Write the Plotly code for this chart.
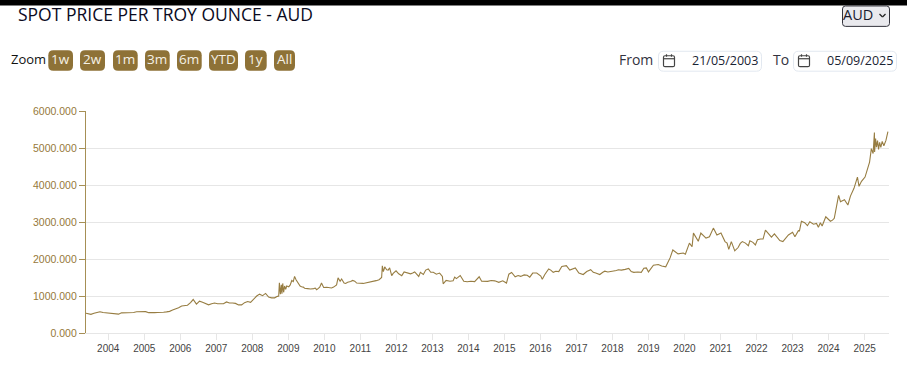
import plotly.graph_objects as go

dates = [
"2003-05-21","2003-06-15","2003-07-10","2003-08-10","2003-09-10","2003-10-10","2003-11-10","2003-12-10",
"2004-01-15","2004-02-15","2004-03-15","2004-04-15","2004-05-15","2004-06-15","2004-07-15","2004-08-15","2004-09-15","2004-10-15","2004-11-15","2004-12-15",
"2005-01-15","2005-02-15","2005-03-15","2005-04-15","2005-05-15","2005-06-15","2005-07-15","2005-08-15","2005-09-15","2005-10-15","2005-11-15","2005-12-15",
"2006-01-15","2006-02-15","2006-03-15","2006-04-15","2006-05-12","2006-06-14","2006-07-15","2006-08-15","2006-09-15","2006-10-15","2006-11-15","2006-12-15",
"2007-01-15","2007-02-25","2007-03-15","2007-04-15","2007-05-15","2007-06-15","2007-07-15","2007-08-15","2007-09-15","2007-10-15","2007-11-15","2007-12-15",
"2008-01-15","2008-02-15","2008-03-15","2008-04-15","2008-05-15","2008-06-15","2008-07-15","2008-08-15","2008-09-12","2008-09-25","2008-10-02","2008-10-12","2008-10-22","2008-10-28","2008-11-05","2008-11-14","2008-11-24","2008-12-05","2008-12-15",
"2009-01-05","2009-01-20","2009-02-05","2009-02-20","2009-03-05","2009-03-20","2009-04-15","2009-05-15","2009-06-15","2009-07-15","2009-08-15","2009-09-15","2009-10-15","2009-11-15","2009-12-03","2009-12-25",
"2010-01-25","2010-02-25","2010-04-05","2010-05-20","2010-06-10","2010-07-20","2010-08-25","2010-10-15","2010-11-25",
"2011-01-30","2011-03-15","2011-05-15","2011-07-10","2011-08-05","2011-08-12","2011-08-22","2011-09-05","2011-09-25","2011-10-25","2011-11-15","2011-12-29",
"2012-02-25","2012-04-15","2012-05-25","2012-07-05","2012-08-15","2012-10-01","2012-11-20","2013-01-10","2013-03-15","2013-04-12","2013-04-20","2013-06-28","2013-07-30","2013-09-01","2013-10-10","2013-12-20",
"2014-03-05","2014-04-20","2014-06-10","2014-08-20","2014-11-05","2015-01-22","2015-03-15","2015-05-20","2015-07-20","2015-09-15","2015-10-15","2015-11-25",
"2016-01-20","2016-02-15","2016-03-25","2016-05-10","2016-07-05","2016-09-20","2016-12-20",
"2017-03-10","2017-05-25","2017-07-15","2017-08-25","2017-10-15","2017-12-15","2018-02-10","2018-04-01","2018-06-15","2018-08-05","2018-10-20","2018-11-15",
"2019-01-01","2019-04-10","2019-06-25","2019-08-08","2019-09-05","2019-10-28","2019-12-20","2020-01-10","2020-02-20","2020-03-18","2020-04-01","2020-05-20","2020-06-15","2020-08-06","2020-09-10","2020-10-20",
"2020-11-25","2021-01-05","2021-02-15","2021-03-08","2021-04-20","2021-05-25","2021-06-28","2021-08-10","2021-10-10","2021-10-25","2021-12-20","2022-02-10","2022-03-08","2022-04-01","2022-05-15","2022-07-01","2022-08-10","2022-09-25","2022-11-20","2023-01-25","2023-03-01","2023-03-12","2023-05-04","2023-06-25","2023-09-20","2023-10-10","2023-10-28","2023-12-04","2024-01-20",
"2024-02-10","2024-02-28","2024-03-12","2024-04-12","2024-05-01","2024-06-10","2024-07-15","2024-08-10","2024-09-15","2024-10-20","2024-11-05","2024-11-30","2025-01-05","2025-02-20","2025-03-10","2025-03-28","2025-04-10","2025-04-12","2025-04-22","2025-05-01","2025-05-12","2025-05-22","2025-06-02","2025-06-14","2025-06-28","2025-07-15","2025-08-05","2025-08-25","2025-09-05",
]
prices = [
535,525,505,535,550,575,555,550,
545,535,515,510,545,545,540,560,555,575,570,570,
578,550,545,550,555,550,560,570,585,620,640,680,
730,750,750,820,905,780,860,830,800,760,790,810,
790,800,790,840,810,810,800,760,760,820,850,830,
930,1000,1050,1010,1070,970,950,950,990,1000,1358,1050,1300,1060,1340,1100,1270,1180,1270,
1250,1300,1420,1390,1530,1440,1310,1250,1210,1200,1190,1200,1170,1240,1350,1230,
1235,1230,1240,1490,1400,1350,1370,1420,1350,1340,
1370,1400,1440,1500,1815,1660,1790,1710,1760,1550,1680,1550,
1635,1600,1650,1530,1580,1730,1640,1620,1530,1330,1400,1410,1470,1555,1385,1390,
1520,1400,1420,1370,1350,1635,1555,1570,1510,1620,1620,1450,
1580,1730,1640,1660,1820,1760,1580,
1710,1620,1580,1670,1660,1690,1700,1745,1640,1640,1750,1650,
1850,1790,2030,2245,2140,2160,2130,2430,2330,2700,2480,2700,2565,2600,2835,2650,2700,
2470,2430,2470,2220,2310,2470,2360,2490,2380,2540,2540,2780,2650,2680,2560,2470,2650,2600,2765,2760,2980,3005,2860,2980,2890,3140,3020,3050,
3100,3320,3720,3550,3600,3460,3700,3910,4215,3965,4100,4215,4620,4985,4850,5420,4890,5255,5025,5200,4960,5150,5020,5180,5060,5205,5445,
]
detail_dates = [
"2009-04-30","2009-06-01","2009-07-01","2009-09-01","2009-10-01","2009-11-01",
"2010-03-15","2010-05-05","2010-06-25","2010-08-05","2010-09-25","2010-11-05",
"2011-02-20","2011-04-15","2011-06-10","2011-08-30","2011-10-10","2011-11-30",
"2012-01-25","2012-03-20","2012-06-15","2012-09-01","2012-10-25","2012-12-15","2013-02-10","2013-05-20","2013-08-15","2013-11-15",
"2014-01-25","2014-05-15","2014-07-15","2014-09-25","2014-12-15","2015-02-15","2015-04-20","2015-06-15","2015-08-20",
"2016-01-05","2016-04-15","2016-06-05","2016-08-05","2016-10-25","2017-01-25","2017-04-15","2017-06-20","2017-09-25","2017-11-15","2018-01-10","2018-03-01","2018-05-10","2018-07-10","2018-09-15","2018-12-10",
"2019-02-20","2019-05-15",
"2021-03-25","2021-07-20","2021-09-10","2021-11-25","2022-01-10","2022-06-01","2022-08-25","2022-10-25","2023-01-01","2023-04-01","2023-06-01","2023-08-01","2023-09-01","2023-11-20",
]
detail_prices = [
1270,1240,1215,1190,1215,1205,
1215,1300,1460,1340,1390,1400,
1350,1385,1415,1720,1700,1610,
1600,1650,1620,1640,1700,1640,1590,1420,1510,1400,
1400,1400,1395,1410,1410,1590,1520,1530,1560,
1540,1700,1670,1800,1700,1620,1660,1640,1640,1650,1680,1710,1720,1660,1650,1760,
1830,1810,
2260,2420,2430,2450,2520,2590,2500,2580,2720,3020,2900,2940,2960,3070,
]
year_ticks = ["2004","2005","2006","2007","2008","2009","2010","2011","2012","2013","2014","2015","2016","2017","2018","2019","2020","2021","2022","2023","2024","2025"]
y_ticks = [0, 1000, 2000, 3000, 4000, 5000, 6000]
zoom_labels = ["1w", "2w", "1m", "3m", "6m", "YTD", "1y", "All"]
zoom_spans = [(48.3,73),(80,105),(113,137.7),(145,169.7),(177,201.7),(209,238),(245,266.7),(274,295)]

merged = sorted(list(zip(dates, prices)) + list(zip(detail_dates, detail_prices)))
all_dates = [d for d, _ in merged]
all_prices = [p for _, p in merged]

W, H = 907, 372
L, R, T, B = 86, 889, 110.5, 333.5
GOLD = "#8E7237"
def px(x): return (x - L) / (R - L)
def py(y): return (B - y) / (B - T)
def rrect(x0, y0, x1, y1, r):
    a, b, c, d = px(x0), px(x1), py(y0), py(y1)
    rx, ry = r / (R - L), r / (B - T)
    return (f"M{a+rx},{c} L{b-rx},{c} Q{b},{c} {b},{c-ry} L{b},{d+ry} Q{b},{d} {b-rx},{d} "
            f"L{a+rx},{d} Q{a},{d} {a},{d+ry} L{a},{c-ry} Q{a},{c} {a+rx},{c} Z")
shapes, notes = [], []
def box(x0, y0, x1, y1, r, fill, line, lw=1):
    shapes.append(dict(type="path", xref="paper", yref="paper", path=rrect(x0, y0, x1, y1, r),
                       fillcolor=fill, line=dict(color=line, width=lw), layer="above"))
def text(x, y, s, size, color, anchor="left", font="Open Sans"):
    notes.append(dict(xref="paper", yref="paper", x=px(x), y=py(y), text=s, showarrow=False, xanchor=anchor,
                      yanchor="middle", xshift=0, borderpad=0, borderwidth=0,
                      font=dict(family=font, size=size, color=color)))
def seg(x0, y0, x1, y1, color, lw=1):
    shapes.append(dict(type="line", xref="paper", yref="paper", x0=px(x0), x1=px(x1), y0=py(y0), y1=py(y1),
                       line=dict(color=color, width=lw), layer="above"))
def calendar(x):
    box(x, 55, x + 11, 66, 1.5, "rgba(0,0,0,0)", "#444444", 1.2)
    seg(x, 58, x + 11, 58, "#444444", 1.2)
    seg(x + 3, 53.5, x + 3, 56, "#444444", 1.2)
    seg(x + 8, 53.5, x + 8, 56, "#444444", 1.2)

shapes.append(dict(type="rect", xref="paper", yref="paper", x0=-0.2, x1=1.1, y0=py(4.5), y1=py(-2),
                   fillcolor="#000000", line=dict(width=0), layer="above"))
text(18, 13.5, "SPOT PRICE PER TROY OUNCE - AUD", 17.5, "#0b0b1e")
box(842.5, 5, 889.5, 25.5, 3, "#e9e9ed", "#33333c")
text(843, 14, "AUD", 14.5, "#1a1a2e")
seg(879.5, 13, 882.5, 16, "#222222", 1.3); seg(882.5, 16, 885.5, 13, "#222222", 1.3)
text(11, 58, "Zoom", 13, "#111111")
for lab, (a, b) in zip(zoom_labels, zoom_spans):
    box(a, 49.5, b, 70, 5, GOLD, GOLD, 0)
    text((a + b) / 2, 58.5, lab, 13.5, "#f5f1e6", "center")
text(619, 58.5, "From", 14, "#333340")
box(658.5, 50.5, 761.5, 70.5, 5, "#ffffff", "#e2e8f0")
calendar(663.5)
text(757.5, 60, "21/05/2003", 12.5, "#1a2333", "right")
text(773, 58.5, "To", 14, "#333340")
box(793.5, 50.5, 896.5, 70.5, 5, "#ffffff", "#e2e8f0")
calendar(798.5)
text(892.5, 60, "05/09/2025", 12.5, "#1a2333", "right")

fig = go.Figure(go.Scatter(x=all_dates, y=all_prices, mode="lines",
                           line=dict(color="#977D42", width=1.1), hoverinfo="skip"))
fig.update_layout(
    width=W, height=H, autosize=False, showlegend=False, paper_bgcolor="#ffffff", plot_bgcolor="#ffffff",
    margin=dict(l=L, r=W - R, t=T, b=H - B, pad=0),
    font=dict(family="Liberation Sans"), shapes=shapes, annotations=notes,
    xaxis=dict(type="date", range=["2003-05-21", "2025-09-05"], showgrid=False,
               tickvals=[f"{y}-01-01" for y in year_ticks], ticktext=year_ticks,
               tickfont=dict(size=10, color="#444444", family="Liberation Sans"),
               ticks="outside", ticklen=6, tickwidth=1, tickcolor="#e6e6e6",
               showline=True, linecolor="#e6e6e6", linewidth=1),
    yaxis=dict(range=[0, 6000], tickvals=y_ticks, ticktext=[f"{v}.000" for v in y_ticks],
               tickfont=dict(size=10.5, color="#96793A", family="Liberation Sans"),
               gridcolor="#e6e6e6", gridwidth=1, zeroline=False,
               ticks="outside", ticklen=6, tickwidth=1, tickcolor="#A68F55",
               showline=True, linecolor="#A68F55", linewidth=1.3),
)
fig.write_html("out.html", config=dict(displayModeBar=False),
               post_script="document.body.style.margin='0';document.body.style.overflow='hidden';")
